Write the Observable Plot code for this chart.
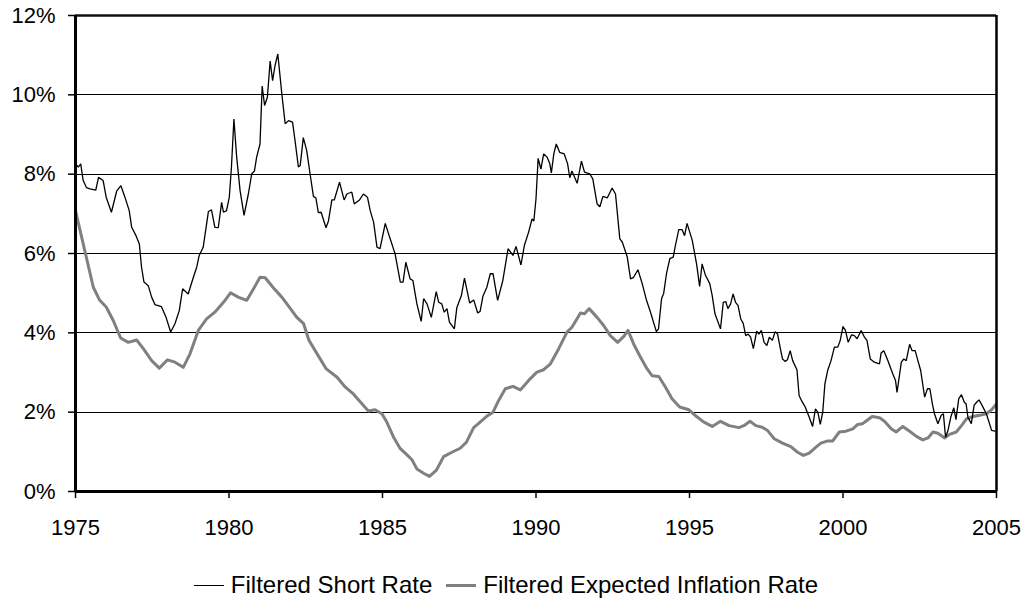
<!DOCTYPE html>
<html>
<head>
<meta charset="utf-8">
<script src="https://cdn.jsdelivr.net/npm/d3@7"></script>
<script src="https://cdn.jsdelivr.net/npm/@observablehq/plot@0.6"></script>
<style>
  html, body { margin: 0; padding: 0; background: #fff; }
  body { width: 1024px; height: 600px; overflow: hidden; font-family: "Liberation Sans", Arial, sans-serif; }
  #legend { height: 50px; display: flex; align-items: center; justify-content: center; font-size: 24px; color: #000; padding-right: 12px; }
  .item { display: flex; align-items: center; margin: 0 7px; }
  .sw { width: 30px; margin-right: 7px; }
</style>
</head>
<body>
<div id="chart"></div>
<div id="legend"></div>
<script>
const seriesNames = ["Filtered Short Rate", "Filtered Expected Inflation Rate"];
const seriesColors = ["#000000", "#808080"];
const seriesWidths = [1.3, 3];

const xTicks = [1975, 1980, 1985, 1990, 1995, 2000, 2005];
const yTicks = [0, 2, 4, 6, 8, 10, 12];

const shortYears = [1975.00,1975.09,1975.17,1975.25,1975.36,1975.47,1975.66,1975.75,1975.90,1976.00,1976.17,1976.34,1976.48,1976.61,1976.75,1976.83,1976.97,1977.08,1977.15,1977.23,1977.37,1977.48,1977.59,1977.80,1977.95,1978.10,1978.24,1978.38,1978.49,1978.67,1978.84,1978.95,1979.03,1979.16,1979.33,1979.43,1979.54,1979.65,1979.76,1979.82,1979.92,1980.01,1980.08,1980.16,1980.25,1980.36,1980.49,1980.63,1980.74,1980.83,1980.90,1981.01,1981.08,1981.16,1981.25,1981.34,1981.42,1981.50,1981.59,1981.72,1981.83,1981.94,1982.07,1982.15,1982.26,1982.32,1982.42,1982.53,1982.64,1982.75,1982.83,1982.91,1983.00,1983.16,1983.24,1983.35,1983.43,1983.60,1983.75,1983.84,1984.00,1984.08,1984.25,1984.38,1984.51,1984.60,1984.71,1984.82,1984.92,1985.09,1985.25,1985.41,1985.58,1985.67,1985.76,1985.90,1985.99,1986.12,1986.26,1986.34,1986.45,1986.59,1986.75,1986.83,1986.93,1987.01,1987.10,1987.18,1987.34,1987.42,1987.57,1987.67,1987.84,1987.97,1988.10,1988.18,1988.27,1988.40,1988.51,1988.60,1988.75,1988.92,1989.09,1989.25,1989.35,1989.51,1989.62,1989.76,1989.87,1989.93,1990.00,1990.07,1990.16,1990.25,1990.36,1990.45,1990.50,1990.58,1990.66,1990.77,1990.92,1991.03,1991.10,1991.17,1991.34,1991.48,1991.58,1991.75,1991.85,1991.99,1992.08,1992.18,1992.32,1992.48,1992.59,1992.73,1992.81,1992.97,1993.08,1993.18,1993.32,1993.46,1993.60,1993.73,1993.92,1993.99,1994.09,1994.16,1994.25,1994.36,1994.47,1994.54,1994.65,1994.76,1994.84,1994.92,1995.09,1995.23,1995.33,1995.41,1995.52,1995.66,1995.74,1995.83,1996.01,1996.10,1996.18,1996.25,1996.34,1996.42,1996.50,1996.58,1996.67,1996.75,1996.83,1996.91,1996.99,1997.08,1997.19,1997.26,1997.34,1997.43,1997.52,1997.60,1997.70,1997.79,1997.87,1997.95,1998.03,1998.12,1998.19,1998.28,1998.36,1998.50,1998.57,1998.65,1998.71,1998.77,1998.90,1999.01,1999.10,1999.18,1999.26,1999.34,1999.41,1999.50,1999.61,1999.72,1999.83,1999.91,2000.00,2000.08,2000.17,2000.28,2000.37,2000.46,2000.59,2000.70,2000.78,2000.89,2001.02,2001.19,2001.24,2001.33,2001.46,2001.62,2001.71,2001.76,2001.90,2001.98,2002.06,2002.17,2002.25,2002.35,2002.44,2002.53,2002.66,2002.75,2002.83,2002.91,2002.98,2003.09,2003.20,2003.27,2003.34,2003.42,2003.51,2003.61,2003.68,2003.77,2003.86,2003.95,2004.01,2004.07,2004.18,2004.27,2004.35,2004.43,2004.53,2004.67,2004.84,2004.95];
const shortVals = [8.26,8.18,8.26,7.84,7.66,7.63,7.60,7.92,7.84,7.42,7.04,7.57,7.71,7.42,7.08,6.66,6.45,6.24,5.66,5.28,5.19,4.90,4.71,4.66,4.39,4.02,4.23,4.56,5.11,4.98,5.40,5.66,5.95,6.16,7.06,7.10,6.66,6.65,7.29,7.04,7.08,7.42,8.18,9.39,8.43,7.59,6.96,7.50,8.01,8.08,8.43,8.76,10.22,9.73,9.94,10.85,10.36,10.74,11.03,10.03,9.27,9.35,9.31,8.85,8.18,8.22,8.92,8.60,8.01,7.44,7.40,7.03,7.04,6.65,6.82,7.35,7.35,7.80,7.35,7.50,7.55,7.25,7.35,7.50,7.42,7.08,6.79,6.16,6.12,6.76,6.37,5.99,5.28,5.28,5.78,5.36,5.32,4.73,4.29,4.86,4.73,4.39,5.04,4.77,4.73,4.52,4.61,4.27,4.10,4.63,4.94,5.38,4.75,4.83,4.50,4.54,4.92,5.15,5.49,5.49,4.82,5.32,6.12,5.95,6.18,5.71,6.20,6.54,6.87,6.82,7.38,8.40,8.13,8.51,8.43,8.26,8.03,8.51,8.76,8.55,8.51,8.26,7.91,8.08,7.77,8.33,8.05,8.01,7.88,7.25,7.18,7.44,7.40,7.65,7.50,6.37,6.29,5.92,5.36,5.40,5.59,5.24,4.82,4.52,4.03,4.10,4.86,5.00,5.49,5.87,5.91,6.20,6.60,6.60,6.45,6.76,6.33,5.74,5.17,5.74,5.45,5.24,4.94,4.48,4.10,4.77,4.79,4.61,4.73,4.98,4.77,4.69,4.35,4.24,3.93,3.97,3.89,3.60,4.04,3.97,4.06,3.76,3.68,3.89,3.81,4.03,3.97,3.64,3.34,3.28,3.32,3.55,3.30,3.07,2.42,2.29,2.21,2.13,1.87,1.64,2.08,2.00,1.69,2.00,2.71,3.05,3.30,3.64,3.64,3.81,4.16,4.06,3.76,3.95,3.93,3.85,4.06,3.89,3.81,3.34,3.26,3.22,3.49,3.55,3.30,2.97,2.80,2.50,3.26,3.34,3.30,3.71,3.55,3.55,3.30,3.05,2.38,2.59,2.59,2.21,1.96,1.71,1.92,1.96,1.37,1.54,1.87,2.11,1.81,2.34,2.44,2.25,2.21,1.87,1.71,2.17,2.25,2.31,2.17,1.96,1.54,1.52];

const inflYears = [1975.00,1975.30,1975.58,1975.79,1976.00,1976.23,1976.47,1976.72,1976.99,1977.21,1977.48,1977.73,1978.00,1978.24,1978.51,1978.73,1979.00,1979.27,1979.54,1979.82,1980.05,1980.30,1980.58,1980.80,1981.01,1981.18,1981.45,1981.72,1982.00,1982.21,1982.43,1982.60,1982.87,1983.17,1983.52,1983.79,1984.05,1984.33,1984.54,1984.76,1984.98,1985.14,1985.36,1985.58,1985.79,1985.96,1986.12,1986.34,1986.53,1986.75,1986.99,1987.26,1987.53,1987.73,1987.97,1988.18,1988.40,1988.60,1988.78,1989.00,1989.25,1989.49,1989.76,1990.03,1990.25,1990.47,1990.74,1991.01,1991.17,1991.45,1991.58,1991.73,1991.99,1992.21,1992.42,1992.66,1992.86,1993.00,1993.18,1993.40,1993.62,1993.78,1994.00,1994.22,1994.43,1994.68,1994.98,1995.23,1995.47,1995.74,1996.01,1996.29,1996.61,1996.77,1996.97,1997.16,1997.37,1997.54,1997.76,1998.03,1998.30,1998.52,1998.71,1998.90,1999.12,1999.28,1999.48,1999.66,1999.88,2000.10,2000.32,2000.48,2000.64,2000.81,2000.95,2001.19,2001.35,2001.57,2001.73,2001.95,2002.17,2002.39,2002.60,2002.77,2002.93,2003.09,2003.31,2003.47,2003.69,2003.86,2004.02,2004.24,2004.45,2004.67,2004.84,2004.98];
const inflVals = [7.08,6.08,5.15,4.82,4.65,4.31,3.87,3.76,3.82,3.60,3.30,3.11,3.32,3.26,3.13,3.47,4.06,4.35,4.52,4.77,5.01,4.90,4.82,5.11,5.40,5.39,5.13,4.90,4.61,4.39,4.23,3.82,3.47,3.09,2.88,2.63,2.46,2.21,2.03,2.06,1.96,1.75,1.37,1.08,0.93,0.80,0.57,0.46,0.38,0.53,0.88,0.99,1.09,1.24,1.61,1.75,1.90,2.00,2.29,2.59,2.65,2.56,2.80,3.01,3.07,3.22,3.60,4.02,4.14,4.50,4.48,4.61,4.39,4.18,3.93,3.76,3.91,4.06,3.72,3.39,3.09,2.92,2.90,2.63,2.34,2.13,2.06,1.89,1.75,1.64,1.77,1.66,1.61,1.66,1.77,1.66,1.62,1.54,1.33,1.22,1.13,0.99,0.91,0.97,1.12,1.22,1.27,1.27,1.50,1.52,1.58,1.69,1.71,1.81,1.89,1.86,1.77,1.58,1.50,1.64,1.52,1.39,1.30,1.35,1.50,1.47,1.35,1.44,1.50,1.66,1.83,1.89,1.92,1.96,2.06,2.19];

const shortData = shortYears.map((t, i) => ({t, v: shortVals[i]}));
const inflData = inflYears.map((t, i) => ({t, v: inflVals[i]}));

const chart = Plot.plot({
  width: 1024,
  height: 560,
  marginLeft: 75,
  marginRight: 28,
  marginTop: 15,
  marginBottom: 69,
  style: {fontFamily: '"Liberation Sans", Arial, sans-serif', fontSize: "22px", color: "#000", background: "#fff"},
  x: {domain: [1975, 2005]},
  y: {domain: [0, 12]},
  marks: [
    Plot.ruleY(yTicks.filter(d => d > 0 && d < 12), {stroke: "#000", strokeWidth: 1, shapeRendering: "crispEdges"}),
    Plot.line(inflData, {x: "t", y: "v", stroke: seriesColors[1], strokeWidth: seriesWidths[1], strokeLinejoin: "round"}),
    Plot.line(shortData, {x: "t", y: "v", stroke: seriesColors[0], strokeWidth: seriesWidths[0], strokeLinejoin: "miter"}),
    Plot.ruleY([12], {stroke: "#111", strokeWidth: 2.5}),
    Plot.ruleX([2005], {stroke: "#000", strokeWidth: 2.5}),
    Plot.ruleX([1975], {stroke: "#000", strokeWidth: 3}),
    Plot.ruleY([0], {stroke: "#000", strokeWidth: 3}),
    Plot.axisY({ticks: yTicks, tickSize: 7, tickPadding: 13, tickFormat: d => d + "%", label: null, strokeWidth: 1.5}),
    Plot.axisX({ticks: xTicks, tickSize: 7, tickPadding: 21, tickFormat: d => String(d), label: null, strokeWidth: 1.5})
  ]
});
document.getElementById("chart").appendChild(chart);

const legend = document.getElementById("legend");
seriesNames.forEach((name, i) => {
  const item = document.createElement("div");
  item.className = "item";
  const sw = document.createElement("div");
  sw.className = "sw";
  sw.style.borderTop = seriesWidths[i] + "px solid " + seriesColors[i];
  if (i === 0) sw.style.borderTopWidth = "1.5px";
  const label = document.createElement("span");
  label.textContent = name;
  item.appendChild(sw);
  item.appendChild(label);
  legend.appendChild(item);
});
</script>
</body>
</html>
